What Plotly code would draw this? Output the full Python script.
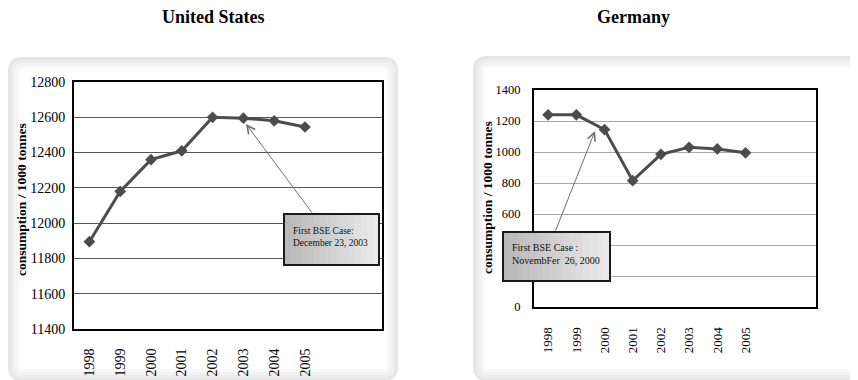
import plotly.graph_objects as go

# ---------------- data ----------------
years = ["1998", "1999", "2000", "2001", "2002", "2003", "2004", "2005"]
us_values = [11895, 12180, 12360, 12410, 12600, 12595, 12580, 12545]
de_values = [1240, 1240, 1145, 815, 985, 1030, 1020, 995]
titles = ["United States", "Germany"]
y_title = "consumption / 1000 tonnes"
us_note = "First BSE Case:<br>December 23, 2003"
de_note = "First BSE Case :<br>NovembFer  26, 2000"

# page body has an 8px margin; the figure fills the rest of the 858x380 window
OFF = 8
W, H = 858 - OFF, 380 - OFF
def fx(px):
    return (px - OFF) / W
def fy(py):
    return 1 - (py - OFF) / H

def rrect(x0, y0, x1, y1, r):
    pts = [
        f"M {fx(x0 + r)},{fy(y0)}",
        f"L {fx(x1 - r)},{fy(y0)}",
        f"Q {fx(x1)},{fy(y0)} {fx(x1)},{fy(y0 + r)}",
        f"L {fx(x1)},{fy(y1 - r)}",
        f"Q {fx(x1)},{fy(y1)} {fx(x1 - r)},{fy(y1)}",
        f"L {fx(x0 + r)},{fy(y1)}",
        f"Q {fx(x0)},{fy(y1)} {fx(x0)},{fy(y1 - r)}",
        f"L {fx(x0)},{fy(y0 + r)}",
        f"Q {fx(x0)},{fy(y0)} {fx(x0 + r)},{fy(y0)}",
        "Z",
    ]
    return " ".join(pts)

idx = list(range(len(years)))
line_color = "#4c4c4c"
serif = "Liberation Serif, Times New Roman, serif"

fig = go.Figure()
fig.add_trace(go.Scatter(
    x=idx, y=us_values, mode="lines+markers", xaxis="x", yaxis="y",
    line=dict(color=line_color, width=3),
    marker=dict(symbol="diamond", size=9, color=line_color),
    showlegend=False, hoverinfo="skip", cliponaxis=False))
fig.add_trace(go.Scatter(
    x=idx, y=de_values, mode="lines+markers", xaxis="x2", yaxis="y2",
    line=dict(color=line_color, width=3),
    marker=dict(symbol="diamond", size=9, color=line_color),
    showlegend=False, hoverinfo="skip", cliponaxis=False))

# plot-area pixel geometry (window pixels)
L1 = (74, 382, 82, 329)   # left, right, top, bottom
L2 = (534, 816, 90, 307)

def xaxis(dom, size, anchor, standoff):
    return dict(domain=[fx(dom[0]), fx(dom[1])], range=[-0.5, 9.5],
                tickvals=idx, ticktext=years, tickangle=-90,
                showgrid=False, zeroline=False, showline=True, mirror=True,
                linecolor="black", linewidth=2, ticks="", automargin=False,
                ticklabelstandoff=standoff,
                tickfont=dict(family=serif, size=size, color="black"),
                anchor=anchor, fixedrange=True)

def yaxis(dom, rng, vals, minor_vals, size, grid, anchor, standoff):
    return dict(domain=[fy(dom[3]), fy(dom[2])], range=rng,
                tickvals=vals, ticktext=[str(v) for v in vals], tickformat="d",
                showgrid=True, gridcolor=grid, gridwidth=1, zeroline=False,
                minor=dict(tickvals=minor_vals, showgrid=True, gridcolor=grid,
                           gridwidth=1, ticks=""),
                showline=True, mirror=True, linecolor="black", linewidth=2,
                ticks="", automargin=False, ticklabelstandoff=standoff,
                tickfont=dict(family=serif, size=size, color="black"),
                anchor=anchor, fixedrange=True)

us_ticks = [11400, 11600, 11800, 12000, 12200, 12400, 12600, 12800]
de_ticks = [0, 600, 800, 1000, 1200, 1400]
de_minor = [200, 400]

shapes = []
# card backgrounds with soft edges
for (x0, y0, x1, y1) in [(8, 57, 398, 381), (473, 56, 875, 381)]:
    for i, c in enumerate(["#e6e6e6", "#ededed", "#f3f3f3", "#f9f9f9", "#ffffff"]):
        d = i * 3
        shapes.append(dict(type="path", path=rrect(x0 + d, y0 + d, x1 - d, y1 - d, 14 - d),
                           xref="paper", yref="paper", fillcolor=c,
                           line=dict(width=0), layer="below"))

# annotation boxes with a gradient fill
def gradient_box(x0, y0, x1, y1):
    n = 16
    c0, c1 = (184, 184, 184), (234, 234, 234)
    for i in range(n):
        t = i / (n - 1)
        col = tuple(int(c0[k] + (c1[k] - c0[k]) * t) for k in range(3))
        xa = x0 + (x1 - x0) * i / n
        xb = x0 + (x1 - x0) * (i + 1) / n + 0.6
        shapes.append(dict(type="rect", xref="paper", yref="paper",
                           x0=fx(xa), x1=fx(min(xb, x1)), y0=fy(y1), y1=fy(y0),
                           fillcolor="rgb(%d,%d,%d)" % col, line=dict(width=0),
                           layer="above"))
    shapes.append(dict(type="rect", xref="paper", yref="paper",
                       x0=fx(x0), x1=fx(x1), y0=fy(y1), y1=fy(y0),
                       fillcolor="rgba(0,0,0,0)", line=dict(color="#1a1a1a", width=2),
                       layer="above"))

gradient_box(284, 214, 379, 265)
gradient_box(503, 232, 610, 281)

def ann(text, x, y, **kw):
    d = dict(text=text, x=fx(x), y=fy(y), xref="paper", yref="paper",
             showarrow=False, yanchor="middle", xanchor="center")
    d.update(kw)
    return d

annotations = [
    ann("<b>%s</b>" % titles[0], 213, 17, font=dict(family=serif, size=18, color="black")),
    ann("<b>%s</b>" % titles[1], 633, 17, font=dict(family=serif, size=18, color="black")),
    ann("<b>%s</b>" % y_title, 21, 200, textangle=-90,
        font=dict(family=serif, size=13.5, color="black")),
    ann("<b>%s</b>" % y_title, 487, 197, textangle=-90,
        font=dict(family=serif, size=13.5, color="black")),
    # arrows
    dict(x=fx(246), y=fy(124), xref="paper", yref="paper", ax=313 - 246, ay=214 - 124,
         showarrow=True, arrowhead=5, arrowsize=1.6, arrowwidth=1, arrowcolor="#6e6e6e", text=""),
    dict(x=fx(595), y=fy(131), xref="paper", yref="paper", ax=555 - 595, ay=232 - 131,
         showarrow=True, arrowhead=5, arrowsize=1.6, arrowwidth=1, arrowcolor="#6e6e6e", text=""),
    # box texts
    ann(us_note, 291, 237, xanchor="left", align="left",
        font=dict(family=serif, size=9.5, color="#111")),
    ann(de_note, 510, 254, xanchor="left", align="left",
        font=dict(family=serif, size=10, color="#111")),
]

fig.update_layout(
    width=W, height=H, autosize=False,
    margin=dict(l=0, r=0, t=0, b=0, pad=0),
    paper_bgcolor="white", plot_bgcolor="rgba(0,0,0,0)",
    xaxis=xaxis(L1, 14, "y", 12),
    yaxis=yaxis(L1, [11400, 12800], us_ticks, [], 14, "#555555", "x", 4),
    xaxis2=xaxis(L2, 13, "y2", 13),
    yaxis2=yaxis(L2, [0, 1400], de_ticks, de_minor, 12.5, "#a8a8a8", "x2", 9),
    shapes=shapes, annotations=annotations,
)

fig.write_html("out.html")
